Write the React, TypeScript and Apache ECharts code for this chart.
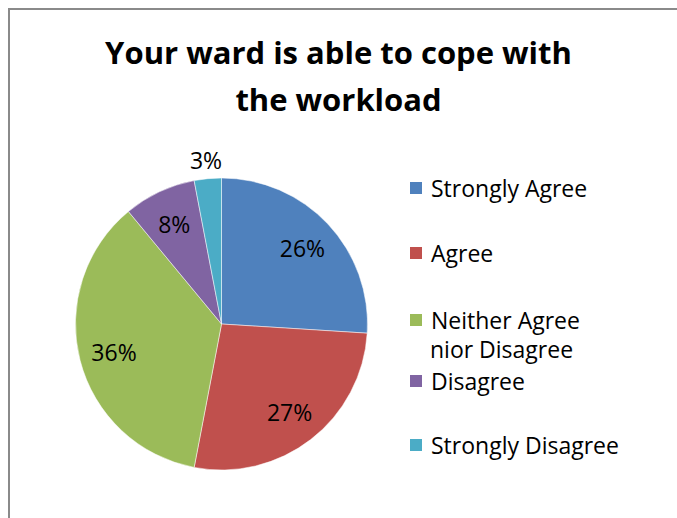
import React, { useEffect, useRef } from "react";
import * as echarts from "echarts";

const titleLines = ["Your ward is able to cope with", "the workload"];
const categories = [
  "Strongly Agree",
  "Agree",
  "Neither Agree nior Disagree",
  "Disagree",
  "Strongly Disagree",
];
const values = [26, 27, 36, 8, 3];
const colors = ["#4F81BD", "#C0504D", "#9BBB59", "#8064A2", "#4BACC6"];
const legendTops = [176, 241, 308, 369, 433];

const FONT = "'Open Sans', sans-serif";

export default function App() {
  const ref = useRef<HTMLDivElement>(null);
  useEffect(() => {
    if (!ref.current) return;
    const chart = echarts.init(ref.current, undefined, { renderer: "svg" });
    const data = categories.map((name, i) => ({ name, value: values[i], itemStyle: { color: colors[i] } }));
    const overlayData = (showIdx: (i: number) => boolean) =>
      categories.map((name, i) => ({
        name,
        value: values[i],
        label: { show: showIdx(i) },
      }));
    const labelStyle = {
      position: "inside",
      formatter: (p: any) => `${Math.round(p.percent)}%`,
      fontSize: 23,
      fontFamily: FONT,
      color: "#000",
    };
    chart.setOption({
      animation: false,
      title: {
        text: titleLines.join("\n"),
        left: "center",
        top: 28,
        padding: [0, 0, 0, 10],
        textStyle: {
          fontSize: 31,
          fontWeight: "bold",
          fontFamily: FONT,
          color: "#000",
          lineHeight: 47,
        },
      },
      legend: categories.map((name, i) => ({
        data: [name],
        orient: "vertical",
        left: 408,
        top: legendTops[i],
        padding: 0,
        itemWidth: 14,
        itemHeight: 14,
        icon: "rect",
        selectedMode: false,
        formatter: (n: string) => (n === categories[2] ? "Neither Agree" : n),
        textStyle: {
          fontSize: 23,
          fontFamily: FONT,
          color: "#000",
          lineHeight: 24,
          padding: [0, 0, 0, 3],
        },
      })),
      graphic: [
        {
          type: "rect",
          shape: { x: 9, y: 9, width: 800, height: 700 },
          style: { fill: "none", stroke: "#8a8a8a", lineWidth: 2 },
          silent: true,
        },
        {
          type: "text",
          x: 430,
          y: 349,
          style: {
            text: "nior Disagree",
            fontSize: 23,
            fontFamily: FONT,
            fill: "#000",
            textVerticalAlign: "middle",
          },
        },
      ],
      series: [
        {
          type: "pie",
          center: [221.5, 324],
          radius: [0, 146],
          startAngle: 90,
          clockwise: true,
          data,
          label: { show: false },
          labelLine: { show: false },
          itemStyle: { borderColor: "#fff", borderWidth: 0.5 },
          silent: true,
        },
        {
          type: "pie",
          center: [221.5, 324],
          radius: [0, 216],
          startAngle: 90,
          clockwise: true,
          data: overlayData((i) => i !== 4),
          itemStyle: { color: "transparent", borderWidth: 0 },
          label: labelStyle,
          labelLine: { show: false },
          silent: true,
        },
        {
          type: "pie",
          center: [221.5, 324],
          radius: [0, 324],
          startAngle: 90,
          clockwise: true,
          data: overlayData((i) => i === 4),
          itemStyle: { color: "transparent", borderWidth: 0 },
          label: labelStyle,
          labelLine: { show: false },
          silent: true,
        },
      ],
    });
    return () => chart.dispose();
  }, []);
  return (
    <div
      ref={ref}
      style={{ position: "fixed", left: 0, top: 0, width: 677, height: 518, background: "#fff" }}
    />
  );
}
